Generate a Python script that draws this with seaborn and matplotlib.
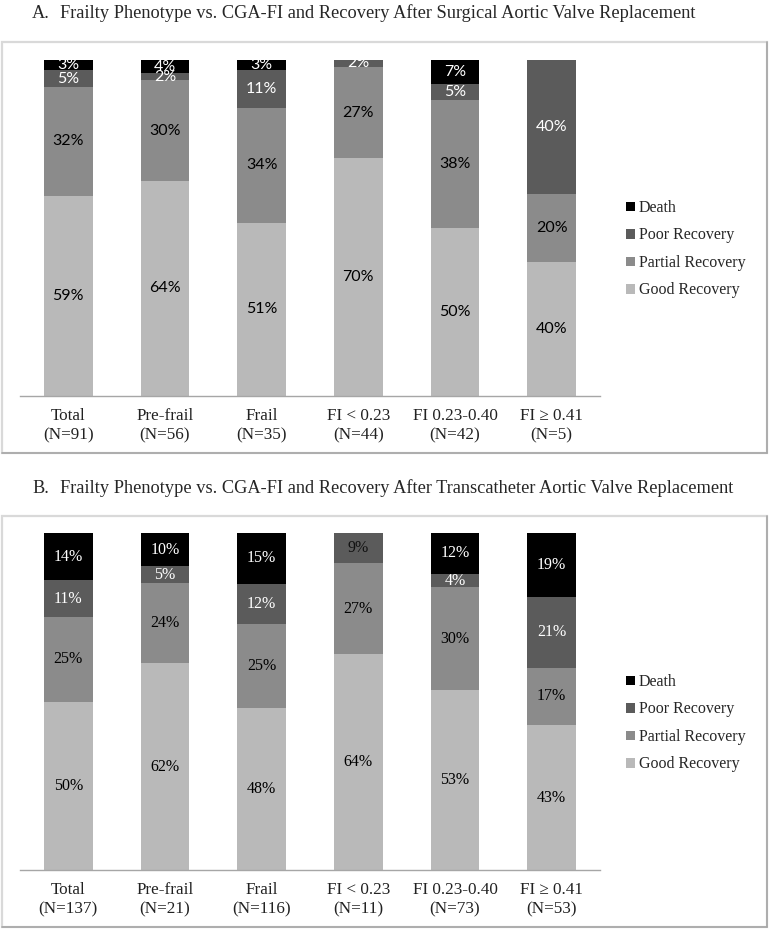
import numpy as np
import pandas as pd
import matplotlib
matplotlib.use("Agg")
import matplotlib.pyplot as plt
import seaborn as sns
from matplotlib.patches import Rectangle, Patch

# ---------------- data ----------------
series = ["Good Recovery", "Partial Recovery", "Poor Recovery", "Death"]
legend_order = ["Death", "Poor Recovery", "Partial Recovery", "Good Recovery"]

categories_a = ["Total\n(N=91)", "Pre-frail\n(N=56)", "Frail\n(N=35)",
                "FI < 0.23\n(N=44)", "FI 0.23-0.40\n(N=42)", "FI \u2265 0.41\n(N=5)"]
good_a = [59, 64, 51, 70, 50, 40]
partial_a = [32, 30, 34, 27, 38, 20]
poor_a = [5, 2, 11, 2, 5, 40]
death_a = [3, 4, 3, 0, 7, 0]

categories_b = ["Total\n(N=137)", "Pre-frail\n(N=21)", "Frail\n(N=116)",
                "FI < 0.23\n(N=11)", "FI 0.23-0.40\n(N=73)", "FI \u2265 0.41\n(N=53)"]
good_b = [50, 62, 48, 64, 53, 43]
partial_b = [25, 24, 25, 27, 30, 17]
poor_b = [11, 5, 12, 9, 4, 21]
death_b = [14, 10, 15, 0, 12, 19]

title_a = "Frailty Phenotype vs. CGA-FI and Recovery After Surgical Aortic Valve Replacement"
title_b = "Frailty Phenotype vs. CGA-FI and Recovery After Transcatheter Aortic Valve Replacement"

colors = {"Good Recovery": "#b9b9b9", "Partial Recovery": "#8b8b8b",
          "Poor Recovery": "#5b5b5b", "Death": "#000000"}
text_colors = {"Good Recovery": "black", "Partial Recovery": "black",
               "Poor Recovery": "white", "Death": "white"}
# label colour exceptions: (category index, series) -> colour
text_color_override_b = {(3, "Poor Recovery"): "#111111"}

# ---------------- layout helpers ----------------
W, H = 771, 933
sns.set_theme(style="white")
SERIF = ["Liberation Serif", "DejaVu Serif"]
plt.rcParams["font.family"] = SERIF

fig = plt.figure(figsize=(W / 100, H / 100), dpi=100)
fig.patch.set_facecolor("white")


def fx(x):
    return x / W


def fy(y):
    return 1 - y / H


def frame(top, bottom, left=2, right=767):
    fig.add_artist(Rectangle((fx(left), fy(bottom)), fx(right) - fx(left), fy(top) - fy(bottom),
                             transform=fig.transFigure, facecolor="none",
                             edgecolor="#d9d9d9", linewidth=1.6))
    fig.add_artist(plt.Line2D([fx(right), fx(right)], [fy(top), fy(bottom)],
                              transform=fig.transFigure, color="#a6a6a6", linewidth=1.2))
    fig.add_artist(plt.Line2D([fx(left), fx(right)], [fy(bottom), fy(bottom)],
                              transform=fig.transFigure, color="#a6a6a6", linewidth=1.2))


def panel(letter, title, title_base, box_top, box_bottom, ax_top, ax_bottom, cats, vals,
          label_family, legend_y, overrides):
    fig.text(fx(32), fy(title_base), letter, fontsize=13.2, family=SERIF, va="baseline", ha="left")
    fig.text(fx(60), fy(title_base), title, fontsize=13.2, family=SERIF, va="baseline", ha="left")
    frame(box_top, box_bottom)

    ax = fig.add_axes([fx(20), fy(ax_bottom), fx(600) - fx(20), fy(ax_top) - fy(ax_bottom)])
    df = pd.DataFrame({"cat": cats})
    for s, v in zip(series, vals):
        df[s] = v
    totals = df[series].sum(axis=1)
    pct = df[series].div(totals, axis=0) * 100
    cum = pct.cumsum(axis=1)
    plot_df = pd.concat([df[["cat"]], cum.add_prefix("cum_")], axis=1)
    for s in reversed(series):
        sns.barplot(data=plot_df, x="cat", y="cum_" + s, order=cats, color=colors[s],
                    saturation=1, width=0.505, errorbar=None, ax=ax, linewidth=0,
                    edgecolor="none")
    for i in range(len(cats)):
        for s in series:
            v = df.loc[i, s]
            if v <= 0:
                continue
            yc = cum.loc[i, s] - pct.loc[i, s] / 2
            ax.text(i, yc, f"{v}%", ha="center", va="center",
                    color=overrides.get((i, s), text_colors[s]),
                    fontsize=11.5, family=label_family)
    ax.set_xlim(-0.5, len(cats) - 0.5)
    ax.set_ylim(0, 100)
    ax.set_xlabel("")
    ax.set_ylabel("")
    ax.set_yticks([])
    for sp in ["top", "left", "right"]:
        ax.spines[sp].set_visible(False)
    ax.spines["bottom"].set_color("#a6a6a6")
    ax.spines["bottom"].set_linewidth(1.0)
    ax.tick_params(axis="x", length=0, pad=9)
    for lab in ax.get_xticklabels():
        lab.set_fontsize(12.3)
        lab.set_family(SERIF)
        lab.set_color("#222222")
    ax.patch.set_alpha(0)

    handles = [Patch(facecolor=colors[s], edgecolor="none", label=s) for s in legend_order]
    fig.legend(handles=handles, loc="upper left",
               bbox_to_anchor=(fx(618), fy(legend_y)), frameon=False,
               prop={"family": SERIF, "size": 11.5},
               handlelength=0.55, handleheight=0.55, handletextpad=0.25,
               labelspacing=0.72, borderpad=0)
    return ax


panel("A.", title_a, 18, 42, 453, 60, 396, categories_a,
      [good_a, partial_a, poor_a, death_a], ["Lato", "DejaVu Sans"], 192, {})
panel("B.", title_b, 493, 516, 927, 533, 870, categories_b,
      [good_b, partial_b, poor_b, death_b], SERIF, 666, text_color_override_b)

fig.savefig("out.png", dpi=100, facecolor="white")
